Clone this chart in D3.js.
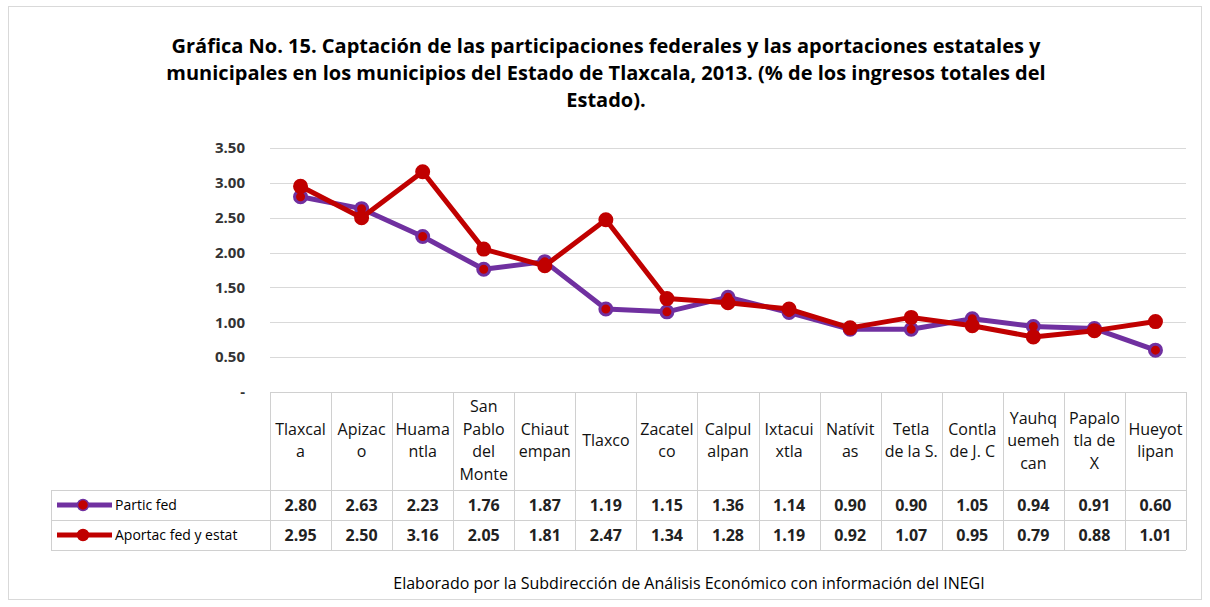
<!DOCTYPE html>
<html lang="es">
  <head>
    <meta charset="UTF-8" />
    <title>Gráfica No. 15 - d3</title>
    <script src="https://d3js.org/d3.v7.min.js"></script>
  </head>
  <style>
    html,
    body {
      margin: 0;
      padding: 0;
      background: #fff;
    }
    svg text {
      font-family: "Open Sans", sans-serif;
    }
  </style>
  <body>
    <script>
      // datos
      var municipios = ["Tlaxcala", "Apizaco", "Huamantla", "San Pablo del Monte", "Chiautempan", "Tlaxco",
        "Zacatelco", "Calpulalpan", "Ixtacuixtla", "Natívitas", "Tetla de la S.", "Contla de J. C",
        "Yauhquemehcan", "Papalotla de X", "Hueyotlipan"];
      // como se cortan en la tabla
      var etiquetas = [["Tlaxcal", "a"], ["Apizac", "o"], ["Huama", "ntla"], ["San", "Pablo", "del", "Monte"],
        ["Chiaut", "empan"], ["Tlaxco"], ["Zacatel", "co"], ["Calpul", "alpan"], ["Ixtacui", "xtla"],
        ["Natívit", "as"], ["Tetla", "de la S."], ["Contla", "de J. C"], ["Yauhq", "uemeh", "can"],
        ["Papalo", "tla de", "X"], ["Hueyot", "lipan"]];
      var particFed = [2.80, 2.63, 2.23, 1.76, 1.87, 1.19, 1.15, 1.36, 1.14, 0.90, 0.90, 1.05, 0.94, 0.91, 0.60];
      var aportacFed = [2.95, 2.50, 3.16, 2.05, 1.81, 2.47, 1.34, 1.28, 1.19, 0.92, 1.07, 0.95, 0.79, 0.88, 1.01];
      var yTicks = [0, 0.5, 1, 1.5, 2, 2.5, 3, 3.5];

      var series = [
        { name: "Partic fed", values: particFed, line: "#7030a0", fill: "#c00000", stroke: "#7030a0" },
        { name: "Aportac fed y estat", values: aportacFed, line: "#c00000", fill: "#c00000", stroke: "#c00000" }
      ];

      var W = 1210, H = 607;
      var svg = d3.select("body").append("svg").attr("width", W).attr("height", H);

      // marco
      svg.append("rect").attr("x", 8.5).attr("y", 6.5).attr("width", 1193).attr("height", 593)
        .attr("fill", "#fff").attr("stroke", "#d9d9d9");

      // titulo
      var titulo = ["Gráfica No. 15. Captación de las participaciones federales y las aportaciones estatales y",
        "municipales en los municipios del Estado de Tlaxcala, 2013. (% de los ingresos totales del",
        "Estado)."];
      svg.selectAll(".titulo").data(titulo).enter().append("text")
        .attr("x", 606).attr("y", function (d, i) { return 53 + i * 27; })
        .attr("text-anchor", "middle").attr("font-size", 20).attr("font-weight", "bold")
        .attr("fill", "#000").text(function (d) { return d; });

      var pLeft = 270, pRight = 1186, pTop = 148, pBottom = 392;
      var x = d3.scaleBand().domain(municipios).range([pLeft, pRight]);
      var y = d3.scaleLinear().domain([0, 3.5]).range([pBottom, pTop]);

      // grid
      svg.append("g").selectAll("line").data(yTicks.filter(function (d) { return d > 0; })).enter().append("line")
        .attr("x1", pLeft).attr("x2", pRight)
        .attr("y1", function (d) { return Math.round(y(d)) + 0.5; })
        .attr("y2", function (d) { return Math.round(y(d)) + 0.5; })
        .attr("stroke", "#d9d9d9").attr("stroke-width", 1);

      // eje y
      var axis = d3.axisLeft(y).tickValues(yTicks).tickSize(0).tickPadding(0)
        .tickFormat(function (d) { return d === 0 ? "-" : d3.format(".2f")(d); });
      var gy = svg.append("g").attr("transform", "translate(245,0)").call(axis);
      gy.select(".domain").remove();
      gy.selectAll("text").attr("font-size", 15).attr("font-weight", "bold").attr("fill", "#333")
        .attr("font-family", "\"Open Sans\", sans-serif");

      // lineas
      var line = d3.line()
        .x(function (d, i) { return x(municipios[i]) + x.bandwidth() / 2; })
        .y(function (d) { return y(d); });

      series.forEach(function (s) {
        var g = svg.append("g");
        g.append("path").datum(s.values).attr("d", line).attr("fill", "none")
          .attr("stroke", s.line).attr("stroke-width", 5).attr("stroke-linejoin", "round");
        g.selectAll("circle").data(s.values).enter().append("circle")
          .attr("cx", function (d, i) { return x(municipios[i]) + x.bandwidth() / 2; })
          .attr("cy", function (d) { return y(d); })
          .attr("r", 6).attr("fill", s.fill).attr("stroke", s.stroke).attr("stroke-width", 3);
      });

      // tabla
      var tTop = 392, hHead = 98, hRow = 30, tLeft = 51;
      var grid = svg.append("g").attr("stroke", "#d0d0d0").attr("stroke-width", 1).attr("fill", "none");
      grid.append("line").attr("x1", pLeft).attr("x2", pRight).attr("y1", tTop + 0.5).attr("y2", tTop + 0.5);
      [tTop + hHead, tTop + hHead + hRow, tTop + hHead + 2 * hRow].forEach(function (yy) {
        grid.append("line").attr("x1", tLeft).attr("x2", pRight).attr("y1", yy + 0.5).attr("y2", yy + 0.5);
      });
      municipios.forEach(function (m) {
        grid.append("line").attr("x1", Math.round(x(m)) + 0.5).attr("x2", Math.round(x(m)) + 0.5)
          .attr("y1", tTop).attr("y2", tTop + hHead + 2 * hRow);
      });
      grid.append("line").attr("x1", pRight + 0.5).attr("x2", pRight + 0.5)
        .attr("y1", tTop).attr("y2", tTop + hHead + 2 * hRow);
      grid.append("line").attr("x1", tLeft + 0.5).attr("x2", tLeft + 0.5)
        .attr("y1", tTop + hHead).attr("y2", tTop + hHead + 2 * hRow);

      // etiquetas de categorias
      var lh = 22.5;
      etiquetas.forEach(function (lines, i) {
        var cx = x(municipios[i]) + x.bandwidth() / 2;
        var cy = tTop + hHead / 2 + 5;
        var y0 = cy - (lines.length - 1) * lh / 2;
        svg.append("g").selectAll("text").data(lines).enter().append("text")
          .attr("x", cx).attr("y", function (d, k) { return y0 + k * lh; })
          .attr("text-anchor", "middle").attr("font-size", 16).attr("fill", "#111")
          .text(function (d) { return d; });
      });

      // filas de valores y leyenda
      series.forEach(function (s, r) {
        var cy = tTop + hHead + r * hRow + hRow / 2;
        svg.append("line").attr("x1", 57).attr("x2", 112).attr("y1", cy).attr("y2", cy)
          .attr("stroke", s.line).attr("stroke-width", 5);
        svg.append("circle").attr("cx", 83).attr("cy", cy).attr("r", 5.5)
          .attr("fill", s.fill).attr("stroke", s.stroke).attr("stroke-width", 1.5);
        svg.append("text").attr("x", 115).attr("y", cy + 5).attr("font-size", 14).attr("fill", "#000")
          .text(s.name);
        svg.append("g").selectAll("text").data(s.values).enter().append("text")
          .attr("x", function (d, i) { return x(municipios[i]) + x.bandwidth() / 2; })
          .attr("y", cy + 5.5).attr("text-anchor", "middle").attr("font-size", 16)
          .attr("font-weight", "bold").attr("fill", "#222")
          .text(function (d) { return d3.format(".2f")(d); });
      });

      // fuente
      svg.append("text").attr("x", 689).attr("y", 589).attr("text-anchor", "middle")
        .attr("font-size", 16).attr("fill", "#000")
        .text("Elaborado por la Subdirección de Análisis Económico con información del INEGI");
    </script>
  </body>
</html>
